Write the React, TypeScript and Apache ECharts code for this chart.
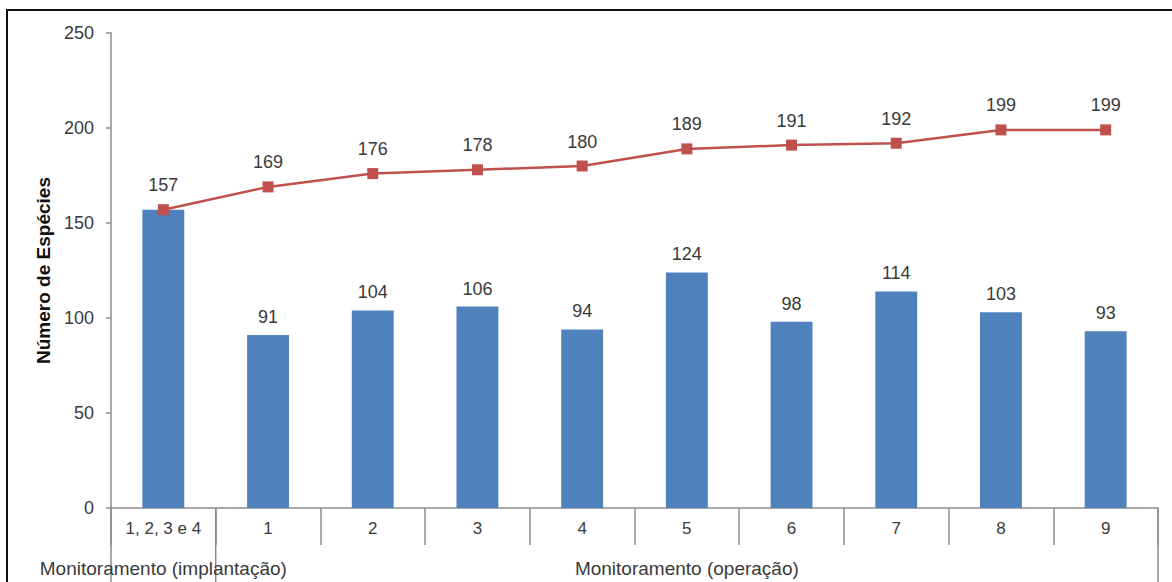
import React, { useEffect, useRef } from "react";
import * as echarts from "echarts";

const categories = ["1, 2, 3 e 4", "1", "2", "3", "4", "5", "6", "7", "8", "9"];
const speciesPerCampaign = [157, 91, 104, 106, 94, 124, 98, 114, 103, 93];
const cumulativeSpecies = [157, 169, 176, 178, 180, 189, 191, 192, 199, 199];
const groupLabels = ["Monitoramento (implantação)", "Monitoramento (operação)"];

const W = 1172;
const H = 582;
const GRID = { left: 111, right: 14, top: 33, bottom: 74 };
const FONT = "'Liberation Sans', Arial, sans-serif";
const TEXT = "#3a3a3a";
const AXIS = "#8c8c8c";

export default function App() {
  const ref = useRef<HTMLDivElement>(null);

  useEffect(() => {
    if (!ref.current) return;
    const chart = echarts.init(ref.current, undefined, { renderer: "svg" });

    const gridW = W - GRID.left - GRID.right;
    const band = gridW / categories.length;
    const axisY = H - GRID.bottom;
    const x0 = GRID.left;
    const x1 = GRID.left + band;
    const xEnd = W - GRID.right;

    chart.setOption({
      animation: false,
      textStyle: { fontFamily: FONT },
      grid: { ...GRID, containLabel: false },
      xAxis: {
        type: "category",
        data: categories,
        boundaryGap: true,
        axisLine: { lineStyle: { color: AXIS, width: 1.5 } },
        axisTick: { show: true, length: 37, lineStyle: { color: AXIS, width: 1.5 } },
        axisLabel: { color: TEXT, fontSize: 17, margin: 12, interval: 0 },
        splitLine: { show: false },
      },
      yAxis: {
        type: "value",
        min: 0,
        max: 250,
        interval: 50,
        name: "Número de Espécies",
        nameLocation: "middle",
        nameGap: 57,
        nameRotate: 90,
        nameTextStyle: { color: "#111", fontSize: 19, fontWeight: "bold" },
        axisLine: { show: true, lineStyle: { color: AXIS, width: 1.5 } },
        axisTick: { show: true, length: 5, lineStyle: { color: AXIS, width: 1.5 } },
        axisLabel: { color: TEXT, fontSize: 18, margin: 17 },
        splitLine: { show: false },
      },
      series: [
        {
          type: "bar",
          data: speciesPerCampaign.map((v, i) => ({
            value: v,
            label: { show: i !== 0 },
          })),
          barWidth: "40%",
          itemStyle: { color: "#4F81BD" },
          label: {
            show: true,
            position: "top",
            distance: 9,
            color: TEXT,
            fontSize: 18,
          },
        },
        {
          type: "line",
          data: cumulativeSpecies,
          symbol: "rect",
          symbolSize: 11,
          lineStyle: { color: "#C0504D", width: 2.5 },
          itemStyle: { color: "#C0504D" },
          label: {
            show: true,
            position: "top",
            distance: 10,
            color: TEXT,
            fontSize: 18,
          },
        },
      ],
      graphic: [
        {
          type: "rect",
          shape: { x: 7, y: 10, width: W + 40, height: H + 40 },
          style: { fill: "none", stroke: "#111", lineWidth: 2 },
          silent: true,
        },
        ...[x0, x1, xEnd].map((x) => ({
          type: "line",
          shape: { x1: x, y1: axisY, x2: x, y2: H },
          style: { stroke: AXIS, lineWidth: 1.5 },
          silent: true,
        })),
        {
          type: "text",
          x: (x0 + x1) / 2,
          y: 568,
          style: {
            text: groupLabels[0],
            fill: TEXT,
            font: `19px ${FONT}`,
            textAlign: "center",
            textVerticalAlign: "middle",
          },
        },
        {
          type: "text",
          x: (x1 + xEnd) / 2,
          y: 568,
          style: {
            text: groupLabels[1],
            fill: TEXT,
            font: `19px ${FONT}`,
            textAlign: "center",
            textVerticalAlign: "middle",
          },
        },
      ],
    });

    return () => chart.dispose();
  }, []);

  return (
    <div
      ref={ref}
      style={{ position: "fixed", left: 0, top: 0, width: W, height: H, background: "#fff" }}
    />
  );
}
